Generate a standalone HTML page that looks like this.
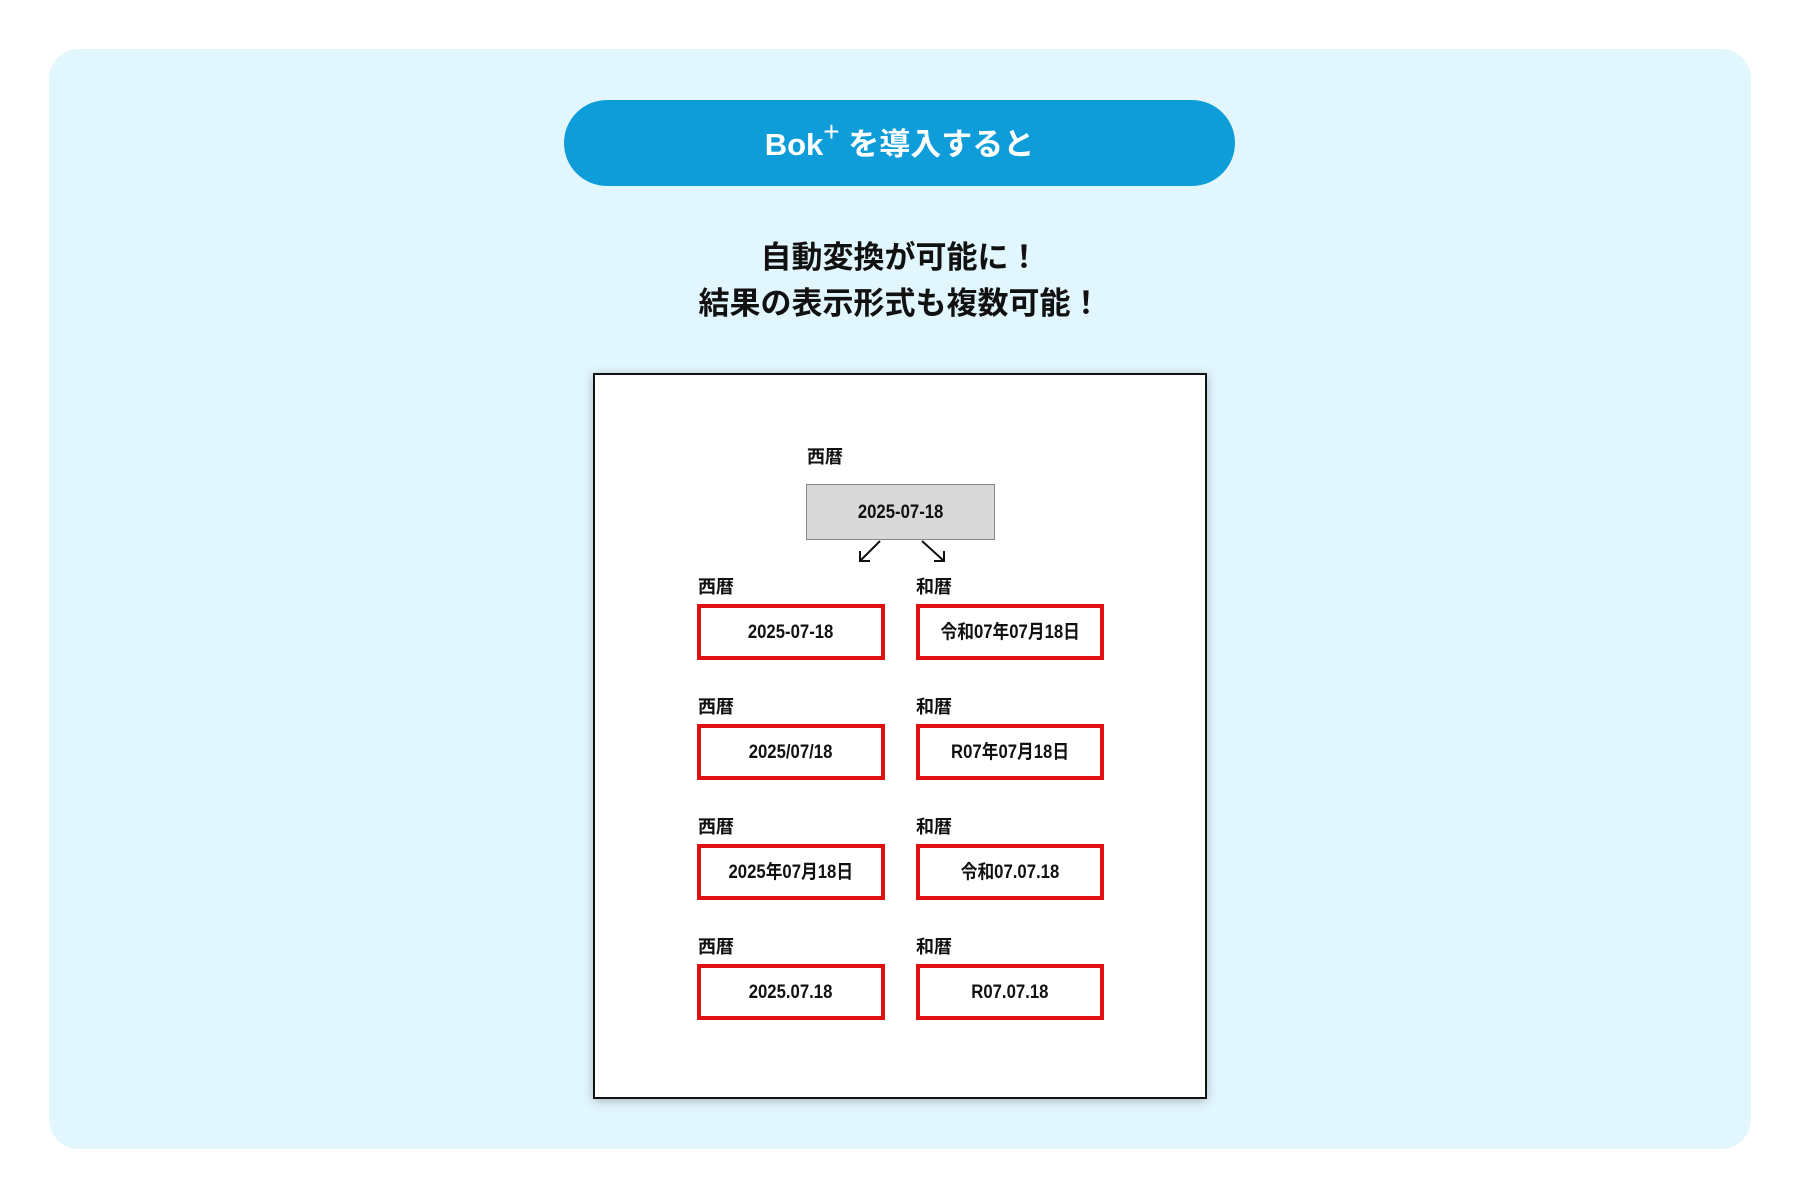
<!DOCTYPE html>
<html><head><meta charset="utf-8"><style>
*{margin:0;padding:0;box-sizing:border-box}
body{width:1800px;height:1200px;background:#fff;position:relative;overflow:hidden;font-family:"Liberation Sans","Noto Sans CJK JP",sans-serif}
.abs{position:absolute}
.panel{left:49px;top:49px;width:1702px;height:1100px;background:#e2f6fe;border-radius:30px}
.btn{left:564px;top:100px;width:671px;height:86px;background:#0e9dd9;border-radius:43px;color:#fff;font-size:31px;font-weight:bold;text-align:center;line-height:86px}
.btn .in{position:relative;top:2px}
.btn .sp{font-weight:normal;font-size:28px;position:relative;top:-14px;line-height:0}
.head{left:0;width:1800px;text-align:center;font-size:31px;font-weight:bold;color:#111;line-height:36px}
.card{left:593px;top:373px;width:614px;height:726px;background:#fff;border:2px solid #111;box-shadow:0 2px 10px rgba(0,0,0,.25)}
.lbl{font-size:18px;font-weight:bold;color:#111;line-height:20px}
.box{width:188px;height:56px;border:4px solid #dd1111;background:#fff;text-align:center;line-height:50px;font-size:19px;font-weight:bold;color:#111}
.box span,.gray span{display:inline-block;transform:scaleX(0.88)}
.gray{left:806px;top:484px;width:189px;height:56px;background:#d9d9d9;border:1px solid #888;text-align:center;line-height:56px;font-size:19px;font-weight:bold;color:#111}
</style></head><body>
<div class="abs panel"></div>
<div class="abs btn"><span class="in">Bok<span class="sp">+</span> を導入すると</span></div>
<div class="abs head" style="top:240px">自動変換が可能に！</div>
<div class="abs head" style="top:286px">結果の表示形式も複数可能！</div>
<div class="abs card"></div>
<div class="abs lbl" style="left:807px;top:447px">西暦</div>
<div class="abs gray"><span>2025-07-18</span></div>
<svg class="abs" style="left:0;top:0" width="1800" height="1200">
<g stroke="#111" stroke-width="2" fill="none">
<line x1="880" y1="541" x2="860" y2="561"/><polyline points="860,551 860,561 870,561"/>
<line x1="922" y1="541" x2="944" y2="561"/><polyline points="934,561 944,561 944,551"/>
</g></svg>

<div class="abs lbl" style="left:698px;top:577px">西暦</div>
<div class="abs lbl" style="left:916px;top:577px">和暦</div>
<div class="abs box" style="left:697px;top:604px"><span>2025-07-18</span></div>
<div class="abs box" style="left:916px;top:604px"><span>令和07年07月18日</span></div>

<div class="abs lbl" style="left:698px;top:697px">西暦</div>
<div class="abs lbl" style="left:916px;top:697px">和暦</div>
<div class="abs box" style="left:697px;top:724px"><span>2025/07/18</span></div>
<div class="abs box" style="left:916px;top:724px"><span>R07年07月18日</span></div>

<div class="abs lbl" style="left:698px;top:817px">西暦</div>
<div class="abs lbl" style="left:916px;top:817px">和暦</div>
<div class="abs box" style="left:697px;top:844px"><span>2025年07月18日</span></div>
<div class="abs box" style="left:916px;top:844px"><span>令和07.07.18</span></div>

<div class="abs lbl" style="left:698px;top:937px">西暦</div>
<div class="abs lbl" style="left:916px;top:937px">和暦</div>
<div class="abs box" style="left:697px;top:964px"><span>2025.07.18</span></div>
<div class="abs box" style="left:916px;top:964px"><span>R07.07.18</span></div>
</body></html>
